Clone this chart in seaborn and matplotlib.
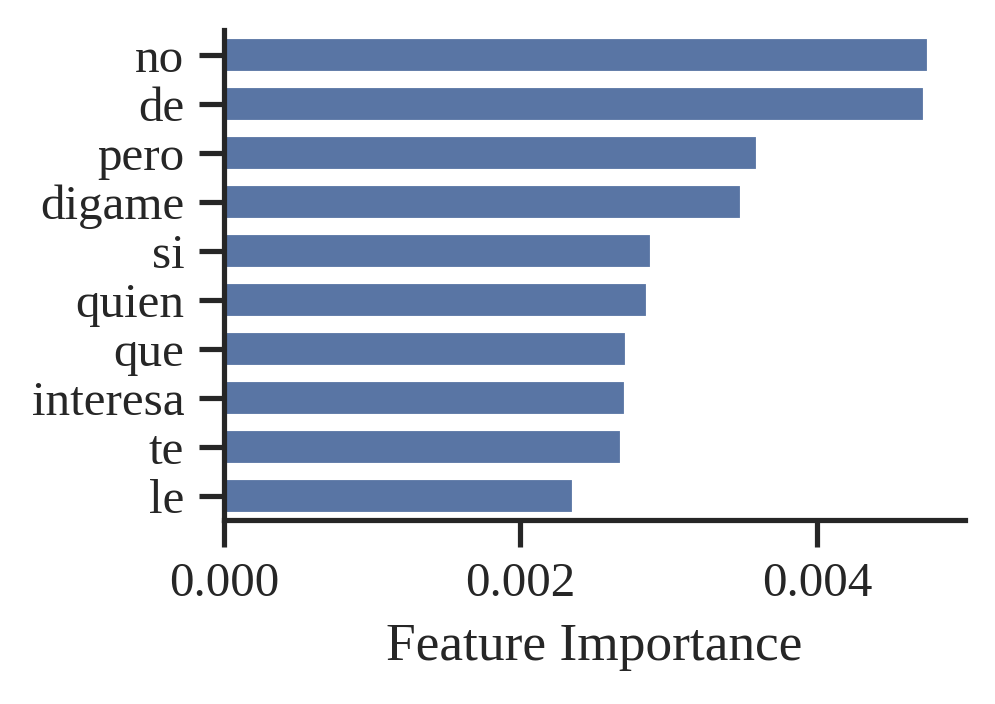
import pandas as pd
import matplotlib
matplotlib.use("Agg")
import matplotlib.pyplot as plt
import seaborn as sns

# Values
features = ["no", "de", "pero", "digame", "si", "quien", "que", "interesa", "te", "le"]
importance = [0.004753, 0.004732, 0.003600, 0.003498, 0.002888,
              0.002861, 0.002719, 0.002712, 0.002685, 0.002359]

df = pd.DataFrame({"feature": features, "importance": importance})

sns.set_theme(style="ticks")
plt.rcParams["font.family"] = ["Liberation Serif", "DejaVu Serif"]
plt.rcParams.update({
    "axes.linewidth": 1.25,
    "xtick.major.width": 1.25,
    "ytick.major.width": 1.25,
    "xtick.major.size": 6.5,
    "ytick.major.size": 6.0,
    "xtick.labelsize": 11.8,
    "ytick.labelsize": 11.8,
    "axes.labelsize": 12.8,
})

fig = plt.figure(figsize=(995 / 300, 704 / 300), dpi=300)
ax = fig.add_axes([0.225, 0.261, 0.745, 0.696])

sns.barplot(data=df, x="importance", y="feature", width=0.74, ax=ax)

ax.set_xlim(0, 0.005)
ax.set_xticks([0.0, 0.002, 0.004])
ax.set_xticklabels(["0.000", "0.002", "0.004"])
ax.set_xlabel("Feature Importance")
ax.set_ylabel("")
sns.despine(ax=ax)

fig.savefig("out.png", dpi=300)
